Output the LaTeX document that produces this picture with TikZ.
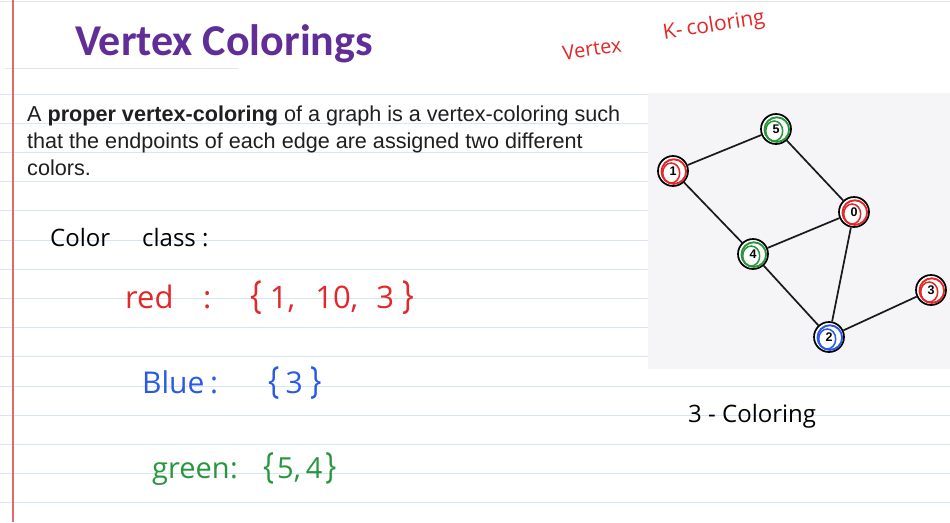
\documentclass[tikz,border=0pt]{standalone}
\usepackage{fontspec}
\setmainfont{Liberation Sans}
\newfontfamily\titlefont{Carlito}
\newfontfamily\handfont{Open Sans}
\definecolor{titlepurple}{RGB}{96,46,150}
\definecolor{rulecol}{RGB}{214,229,245}
\definecolor{margincol}{RGB}{228,105,105}
\definecolor{toprule}{RGB}{228,228,228}
\definecolor{hred}{RGB}{226,40,40}
\definecolor{hblue}{RGB}{40,90,230}
\definecolor{hgreen}{RGB}{40,150,60}
\definecolor{panelgrey}{RGB}{245,244,247}
\newcommand{\scribble}[2]{%
  \draw[#2, line width=1.9pt] ([shift={(0.8,0.6)}]#1.center) circle[radius=12.3];
  \draw[#2, line width=1.5pt] ([shift={(-1.8,2)}]#1.center) circle[x radius=8.5, y radius=10];}
\newcommand{\tallbr}[1]{\scalebox{1}[1.25]{#1}}
\begin{document}
\begin{tikzpicture}[x=1pt,y=-1pt,
  vtx/.style={circle, draw=black, line width=1.7pt, fill=white, minimum size=30pt, inner sep=0pt,
    font=\bfseries\fontsize{12.5}{12.5}\selectfont},
  edge/.style={draw=black!90, line width=1.7pt},
  para/.style={anchor=base west, inner sep=0pt, font=\fontsize{21.6}{27}\selectfont, text=black!88},
  hand/.style={anchor=base west, inner sep=0pt, font=\handfont\fontsize{24}{24}\selectfont}]
% page
\fill[white] (0,0) rectangle (950,522);
\useasboundingbox (0,0) rectangle (950,522);
% ruled lines
\foreach \k in {0,...,14} {\draw[rulecol, line width=0.9pt] (0,94+29.2*\k) -- (950,94+29.2*\k);}
\draw[toprule, line width=0.8pt] (0,1.5) -- (950,1.5);
\draw[toprule, line width=0.8pt] (5,68) -- (238,68);
\draw[margincol, line width=1.1pt] (13,0) -- (13,522);
% title
\node[anchor=base west, inner sep=0pt, text=titlepurple, font=\titlefont\bfseries\fontsize{44}{44}\selectfont] (title) at (75,55) {Vertex Colorings};
% paragraph
\node[para] (p1) at (27,121) {A \textbf{proper vertex-coloring} of a graph is a vertex-coloring such};
\node[para] (p2) at (27,148) {that the endpoints of each edge are assigned two different};
\node[para] (p3) at (27,175) {colors.};
% handwriting
\node[hand, text=hred, rotate=8, anchor=center, font=\handfont\fontsize{20}{20}\selectfont] (vk1) at (592,49) {Vertex};
\node[hand, text=hred, rotate=9, anchor=center, font=\handfont\fontsize{21}{21}\selectfont] (vk2) at (714,26) {K-\hspace{4pt}coloring};
\node[hand, text=black] (cc) at (50,246) {\makebox[92pt][l]{Color}class :};
\node[hand, text=hred, font=\handfont\fontsize{31}{31}\selectfont] (red) at (125,308) {\makebox[78pt][l]{red}\makebox[47pt][l]{:}\tallbr{\{}\hspace{8pt}1,\hspace{20pt}10,\hspace{18pt}3\hspace{8pt}\tallbr{\}}};
\node[hand, text=hblue, font=\handfont\fontsize{30}{30}\selectfont] (blue) at (142,393) {\makebox[68pt][l]{Blue}\makebox[58pt][l]{:}\tallbr{\{}\hspace{6pt}3\hspace{8pt}\tallbr{\}}};
\node[hand, text=hgreen, font=\handfont\fontsize{29}{29}\selectfont] (green) at (152,478) {\makebox[78pt][l]{green}\makebox[33pt][l]{:}\tallbr{\{}\hspace{3pt}5,\hspace{5pt}4\hspace{3pt}\tallbr{\}}};
\node[hand, text=black] (three) at (688,422) {3 - Coloring};
% graph panel
\fill[panelgrey] (648,93) rectangle (950,369);
\node[vtx] (n5) at (776,129) {5};
\node[vtx] (n1) at (673,171) {1};
\node[vtx] (n0) at (854,212) {0};
\node[vtx] (n4) at (753,254) {4};
\node[vtx] (n3) at (931,290) {3};
\node[vtx] (n2) at (829,337) {2};
\draw[edge] (n1) -- (n5);
\draw[edge] (n5) -- (n0);
\draw[edge] (n1) -- (n4);
\draw[edge] (n4) -- (n0);
\draw[edge] (n0) -- (n2);
\draw[edge] (n4) -- (n2);
\draw[edge] (n2) -- (n3);
\scribble{n5}{hgreen}
\scribble{n1}{hred}
\scribble{n0}{hred}
\scribble{n4}{hgreen}
\scribble{n3}{hred}
\scribble{n2}{hblue}
\end{tikzpicture}
\end{document}
